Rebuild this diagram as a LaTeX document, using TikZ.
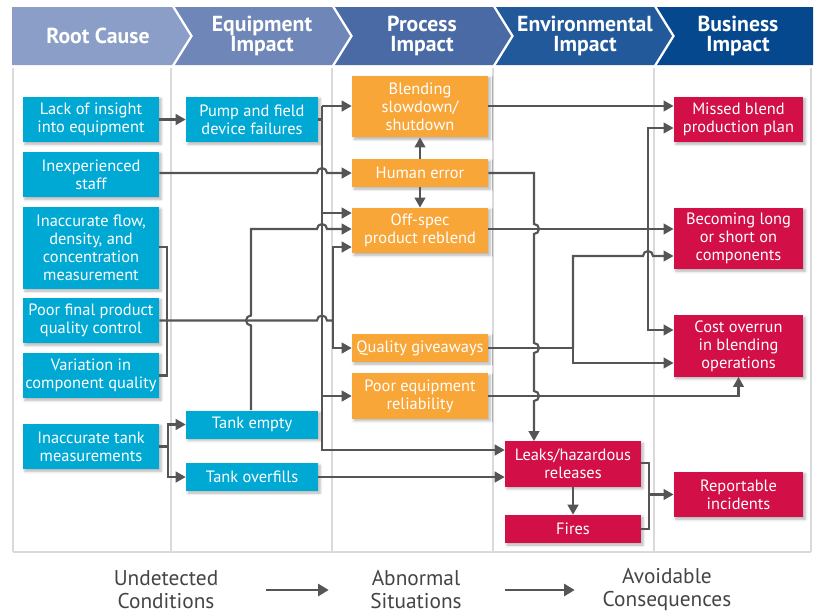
\documentclass[tikz,border=0pt]{standalone}
\usepackage{fontspec}
\setmainfont{PT Sans}
\usetikzlibrary{arrows.meta,shadows.blur}
\definecolor{boxcyan}{RGB}{0,169,212}
\definecolor{boxorange}{RGB}{248,166,55}
\definecolor{boxred}{RGB}{210,15,70}
\definecolor{linegray}{RGB}{85,85,88}
\definecolor{rulegray}{RGB}{218,218,218}
\definecolor{legendgray}{RGB}{68,68,70}
\definecolor{hroot}{RGB}{138,158,200}
\definecolor{hequip}{RGB}{111,134,184}
\definecolor{hproc}{RGB}{73,106,165}
\definecolor{henv}{RGB}{33,89,155}
\definecolor{hbiz}{RGB}{6,72,142}

\begin{document}
\begin{tikzpicture}[x=0.75pt,y=-0.75pt,
    conn/.style={draw=linegray,line width=1.6pt},
    arr/.style={conn,-{Triangle[length=7.5pt,width=8pt]}},
    box/.style={align=center,inner sep=1pt,text=white,font=\fontsize{12.3}{13.5}\selectfont,
      blur shadow={shadow xshift=1.5pt,shadow yshift=-1.5pt,shadow blur steps=4,shadow opacity=30}},
    causebox/.style={box,fill=boxcyan,minimum width=102pt},
    equipbox/.style={box,fill=boxcyan,minimum width=99pt},
    procbox/.style={box,fill=boxorange,minimum width=102pt},
    envbox/.style={box,fill=boxred,minimum width=102pt},
    bizbox/.style={box,fill=boxred,minimum width=97pt},
    hsmall/.style={minimum height=21pt},
    hmid/.style={minimum height=34pt},
    hbig/.style={minimum height=46pt},
    hflow/.style={minimum height=61.5pt},
    hdr/.style={align=center,text=white,font=\fontsize{16.3}{15}\selectfont\bfseries},
    legtext/.style={align=center,text=legendgray,font=\fontsize{16}{17.25}\selectfont,inner sep=0pt},
    colline/.style={draw=rulegray,line width=1.1pt}
  ]
    \useasboundingbox (0,0) rectangle (817,615);

    \fill[hroot] (12,7) -- (172,7) -- (190,36) -- (172,65) -- (12,65) -- cycle;
    \fill[hequip] (175,7) -- (332,7) -- (350,36) -- (332,65) -- (175,65) -- (193,36) -- cycle;
    \fill[hproc] (335,7) -- (493,7) -- (511,36) -- (493,65) -- (335,65) -- (353,36) -- cycle;
    \fill[henv] (496,7) -- (654,7) -- (672,36) -- (654,65) -- (496,65) -- (514,36) -- cycle;
    \fill[hbiz] (657,7) -- (813,7) -- (813,65) -- (657,65) -- (675,36) -- cycle;
    \node[hdr] (troot) at (98,36) {Root Cause};
    \node[hdr] (tequip) at (262,36) {Equipment\\Impact};
    \node[hdr] (tproc) at (422,36) {Process\\Impact};
    \node[hdr] (tenv) at (585,36) {Environmental\\Impact};
    \node[hdr] (tbiz) at (738,36) {Business\\Impact};

    \foreach \cx in {13,171,332,493,654,811}
        \draw[colline] (\cx,68) -- (\cx,552);
    \draw[colline] (13,552) -- (811,552);

    \node[causebox,hmid] (lack) at (91,119.5) {Lack of insight\\into equipment};
    \node[causebox,hmid] (staff) at (91,174.5) {Inexperienced\\staff};
    \node[causebox,hflow] (flow) at (91,248) {Inaccurate flow,\\density, and\\concentration\\measurement};
    \node[causebox,hmid] (qc) at (91,320.5) {Poor final product\\quality control};
    \node[causebox,hmid] (variation) at (91,375.5) {Variation in\\component quality};
    \node[causebox,hmid] (tankmeas) at (91,446.5) {Inaccurate tank\\measurements};

    \node[equipbox,hmid] (pump) at (252,119.5) {Pump and field\\device failures};
    \node[equipbox,hsmall] (tankempty) at (252,424.5) {Tank empty};
    \node[equipbox,hsmall] (overfill) at (252,477) {Tank overfills};

    \node[procbox,hbig] (blend) at (420,106.5) {Blending\\slowdown/\\shutdown};
    \node[procbox,hsmall] (human) at (420,173) {Human error};
    \node[procbox,hmid] (offspec) at (420,230.5) {Off-spec\\product reblend};
    \node[procbox,hsmall] (giveaway) at (420,348) {Quality giveaways};
    \node[procbox,hmid] (reliab) at (420,396) {Poor equipment\\reliability};

    \node[envbox,hmid] (leaks) at (573,464) {Leaks/hazardous\\releases};
    \node[envbox,hsmall] (fires) at (573,529) {Fires};

    \node[bizbox,hmid] (missed) at (738.5,119.5) {Missed blend\\production plan};
    \node[bizbox,hbig] (longshort) at (738.5,238.5) {Becoming long\\or short on\\components};
    \node[bizbox,hbig] (costover) at (738.5,346) {Cost overrun\\in blending\\operations};
    \node[bizbox,hmid] (report) at (738.5,494.5) {Reportable\\incidents};

    \coordinate (pb) at (322,106);
    \coordinate (pe) at (322,450);
    \coordinate (tm) at (168,446.5);
    \coordinate (qj) at (333,320.5);
    \coordinate (oj) at (648,229);
    \coordinate (gj) at (573,348);
    \coordinate (lj) at (649,494.5);

    \draw[arr] (lack) -- (pump);
    \draw[conn] (tankmeas.east) -- (tm);
    \draw[arr] (tm) |- (tankempty);
    \draw[arr] (tm) |- (overfill);

    \draw[conn] (pump.east) -- (pb |- pump.east);
    \draw[arr] (pb) -- (blend.west |- pb);
    \draw[arr] (pb) -- (pe) -- (leaks.west |- pe);
    \draw[arr] (pb |- 0,213) -- (offspec.west |- 0,213);
    \draw[arr] (pb |- reliab) -- (reliab);

    \draw[arr] (staff.east |- human) -- (317,173) arc[start angle=180,end angle=0,radius=3.75pt] -- (human);

    \draw[conn] (flow.east |- 0,247) -| (167,375.5) -- (variation.east);
    \draw[conn] (qc) -- (317,320.5) arc[start angle=180,end angle=0,radius=3.75pt] -- (qj);
    \draw[arr] (qj) |- (offspec.west |- 0,247);
    \draw[arr] (qj) |- (giveaway);

    \draw[arr] (tankempty.north -| 251,0) -- (251,325.5) arc[start angle=270,end angle=90,radius=3.75pt]
        -- (251,229) -- (317,229) arc[start angle=180,end angle=0,radius=3.75pt] -- (offspec.west |- 0,229);

    \draw[arr] (human) -- (blend);
    \draw[arr] (human) -- (offspec);
    \draw[arr] (human) -- (534,173) -- (534,224) arc[start angle=90,end angle=-90,radius=3.75pt]
        -- (534,343) arc[start angle=90,end angle=-90,radius=3.75pt]
        -- (534,391) arc[start angle=90,end angle=-90,radius=3.75pt] -- (leaks.north -| 534,0);

    \draw[arr] (blend.east |- 0,106) -- (missed.west |- 0,106);
    \draw[arr] (offspec.east |- 0,229) -- (longshort.west |- 0,229);
    \draw[arr] (oj) |- (missed.west |- 0,128);
    \draw[arr] (oj) |- (costover.west |- 0,330);

    \draw[conn] (giveaway) -- (gj);
    \draw[arr] (gj) |- (643,256) arc[start angle=180,end angle=0,radius=3.75pt] -- (longshort.west |- 0,256);
    \draw[arr] (gj) |- (costover.west |- 0,363);
    \draw[arr] (reliab) -| (costover);

    \draw[arr] (overfill) -- (leaks.west |- overfill);
    \draw[arr] (leaks) -- (fires);
    \draw[conn] (leaks.east |- 0,463) -| (lj |- fires.east) -- (fires.east);
    \draw[arr] (lj) -- (report);

    \node[legtext,minimum width=150pt] (undet) at (166,590) {Undetected\\Conditions};
    \node[legtext,minimum width=126pt] (abn) at (416,590) {Abnormal\\Situations};
    \node[legtext,minimum width=138pt] (avoid) at (667,590) {Avoidable\\Consequences};
    \draw[conn,line width=2pt,-{Triangle[length=8pt,width=9pt]},shorten >=2.25pt] (undet) -- (abn);
    \draw[conn,line width=2pt,-{Triangle[length=8pt,width=9pt]},shorten <=3.75pt] (abn) -- (avoid);
\end{tikzpicture}
\end{document}
